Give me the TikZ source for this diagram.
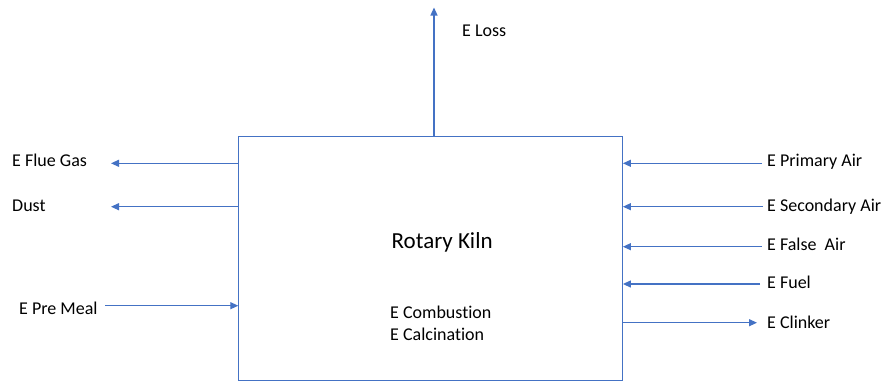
\documentclass[tikz,border=0pt]{standalone}
\usepackage{fontspec}
\setmainfont[Ligatures={NoCommon}]{Carlito}
\usetikzlibrary{arrows.meta}
\definecolor{flowblue}{HTML}{4472C4}
\begin{document}
\begin{tikzpicture}[x=1pt,y=-1pt,
  flow/.style={draw=flowblue,line width=1.2pt,-{Triangle[length=8pt,width=7pt]}},
  lbl/.style={anchor=base west,inner sep=0pt,font=\fontsize{18}{22}\selectfont},
  kilnbox/.style={draw=flowblue,line width=1.1pt,fill=white}]
  \useasboundingbox (0,0) rectangle (886,381);
  % kiln body
  \node[kilnbox,anchor=north west,minimum width=383.5pt,minimum height=244pt,inner sep=0pt] (kiln) at (238.3,136) {};
  \node[anchor=base west,inner sep=0pt,font=\fontsize{23}{27}\selectfont] (title) at (391.5,248) {Rotary Kiln};
  \node[lbl] (comb) at (390,318) {E Combustion};
  \node[lbl] (calc) at (390,340) {E Calcination};
  % energy loss upwards
  \coordinate (losstip) at (434,7.5);
  \node[lbl] (loss) at (462,36) {E Loss};
  \draw[flow] (kiln.north -| losstip) -- (losstip);
  % outputs on the left
  \node[lbl] (flue) at (12,166) {E Flue Gas};
  \node[lbl] (dust) at (12,211) {Dust};
  \coordinate (fluetip) at (111,163.3);
  \coordinate (dusttip) at (111,206.7);
  \draw[flow] (kiln.west |- fluetip) -- (fluetip);
  \draw[flow] (kiln.west |- dusttip) -- (dusttip);
  % raw meal input
  \node[lbl] (meal) at (19,314) {E Pre Meal};
  \coordinate (mealstart) at (105,305.7);
  \draw[flow] (mealstart) -- (kiln.west |- mealstart);
  % inputs on the right
  \node[lbl] (prim) at (767,166.5) {E Primary Air};
  \node[lbl] (sec) at (767,211) {E Secondary Air};
  \node[lbl] (false) at (767,250.5) {E False\ \ Air};
  \node[lbl] (fuel) at (767,288) {E Fuel};
  \coordinate (primstart) at (762,163.3);
  \coordinate (secstart) at (763,206.7);
  \coordinate (falsestart) at (762,246.7);
  \coordinate (fuelstart) at (760,284);
  \draw[flow] (primstart) -- (kiln.east |- primstart);
  \draw[flow] (secstart) -- (kiln.east |- secstart);
  \draw[flow] (falsestart) -- (kiln.east |- falsestart);
  \draw[flow] (fuelstart) -- (kiln.east |- fuelstart);
  % clinker output
  \node[lbl] (clink) at (767,328) {E Clinker};
  \coordinate (clinktip) at (757,322.7);
  \draw[flow] (kiln.east |- clinktip) -- (clinktip);
\end{tikzpicture}
\end{document}
